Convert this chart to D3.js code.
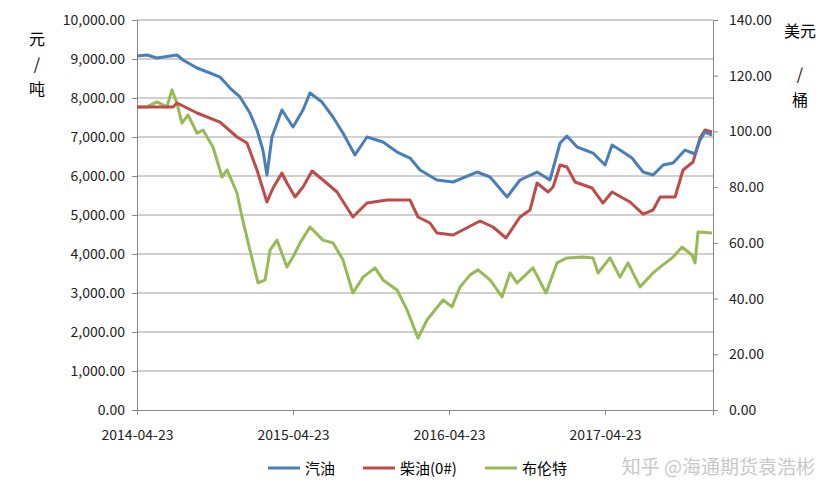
<!DOCTYPE html>
<html><head><meta charset="utf-8">
<script src="https://d3js.org/d3.v7.min.js"></script>
<style>body{margin:0;background:#fff}text{font-family:"Noto Sans CJK SC","Liberation Sans",sans-serif}</style>
</head><body><svg id="c" width="836" height="500"></svg>
<script>
// time in decimal years
const tickLabels=["2014-04-23","2015-04-23","2016-04-23","2017-04-23"];
const tickYears=[2014.307,2015.307,2016.307,2017.307];
const gasT=[2014.307,2014.371,2014.435,2014.563,2014.602,2014.692,2014.775,2014.839,2014.903,2014.967,2015.031,2015.076,2015.114,2015.140,2015.172,2015.236,2015.307,2015.371,2015.416,2015.493,2015.563,2015.627,2015.704,2015.781,2015.884,2015.974,2016.057,2016.121,2016.230,2016.333,2016.486,2016.570,2016.679,2016.762,2016.871,2016.954,2017.019,2017.063,2017.128,2017.230,2017.307,2017.352,2017.403,2017.480,2017.551,2017.615,2017.679,2017.743,2017.820,2017.884,2017.916,2017.948,2017.993];
const gasV=[9077,9103,9026,9103,8974,8769,8641,8538,8256,8026,7615,7179,6667,6026,7000,7692,7256,7692,8128,7897,7513,7103,6538,7000,6872,6615,6461,6154,5897,5846,6102,5974,5461,5897,6102,5897,6846,7026,6743,6589,6282,6795,6666,6461,6102,6026,6282,6333,6666,6564,6923,7128,7051];
const dslT=[2014.307,2014.371,2014.538,2014.563,2014.692,2014.839,2014.948,2015.012,2015.076,2015.140,2015.179,2015.236,2015.268,2015.320,2015.371,2015.429,2015.499,2015.589,2015.691,2015.781,2015.910,2016.057,2016.108,2016.185,2016.230,2016.333,2016.506,2016.589,2016.672,2016.762,2016.826,2016.871,2016.942,2016.974,2017.019,2017.063,2017.115,2017.224,2017.294,2017.352,2017.467,2017.551,2017.615,2017.660,2017.756,2017.807,2017.871,2017.916,2017.948,2017.993];
const dslV=[7769,7769,7769,7872,7615,7384,7000,6846,6154,5333,5692,6077,5820,5461,5718,6128,5897,5590,4949,5307,5384,5384,4949,4795,4538,4487,4846,4692,4410,4949,5128,5820,5590,5718,6282,6230,5846,5692,5307,5590,5333,5025,5128,5461,5461,6154,6359,6974,7179,7128];
const brtT=[2014.307,2014.371,2014.435,2014.499,2014.531,2014.563,2014.595,2014.634,2014.692,2014.730,2014.794,2014.852,2014.884,2014.948,2014.980,2015.031,2015.083,2015.128,2015.160,2015.204,2015.268,2015.307,2015.352,2015.416,2015.499,2015.563,2015.627,2015.691,2015.756,2015.833,2015.884,2015.974,2016.038,2016.108,2016.166,2016.217,2016.269,2016.326,2016.378,2016.442,2016.493,2016.570,2016.647,2016.698,2016.743,2016.845,2016.929,2016.999,2017.063,2017.166,2017.230,2017.262,2017.339,2017.403,2017.454,2017.531,2017.615,2017.660,2017.743,2017.801,2017.865,2017.884,2017.903,2017.993];
const brtV=[108.8,108.8,110.6,108.8,114.9,110.2,103.0,105.9,99.4,100.5,94.4,83.6,86.2,77.9,69.3,57.4,45.6,46.7,57.4,61.0,51.3,54.9,60.0,65.7,61.0,60.0,53.9,42.0,47.7,51.0,46.7,43.1,35.9,25.8,32.3,35.9,39.5,37.0,44.2,48.5,50.3,46.7,40.6,49.2,45.6,51.0,42.0,52.8,54.6,54.9,54.6,49.2,54.6,47.7,52.8,44.2,49.2,51.3,54.9,58.5,55.6,52.8,63.9,63.5];
const names=["汽油","柴油(0#)","布伦特"];
const colors=["#4a7ebb","#be4b48","#98b954"];

const svg=d3.select("#c");
const L=137,R=713,T=20,B=410;
const x=d3.scaleLinear().domain([2014.307,2017.999]).range([L,R]);
const yl=d3.scaleLinear().domain([0,10000]).range([B,T]);
const yr=d3.scaleLinear().domain([0,140]).range([B,T]);
const fmt=d3.format(",.2f");
svg.append("g").selectAll("line").data(d3.range(1000,10001,1000)).join("line")
 .attr("x1",L).attr("x2",R).attr("y1",d=>yl(d)).attr("y2",d=>yl(d)).attr("stroke","#a0a0a0").attr("stroke-width",1);
const gl=svg.append("g").attr("transform",`translate(${L},0)`).call(d3.axisLeft(yl).tickValues(d3.range(0,10001,1000)).tickFormat(fmt).tickSize(5));
const gr=svg.append("g").attr("transform",`translate(${R},0)`).call(d3.axisRight(yr).tickValues(d3.range(0,141,20)).tickFormat(fmt).tickSize(5));
const gb=svg.append("g").attr("transform",`translate(0,${B})`).call(d3.axisBottom(x).tickValues(tickYears).tickFormat((d,i)=>tickLabels[i]).tickSize(5));
[gl,gr,gb].forEach(g=>{g.selectAll("path,line").attr("stroke","#868686");g.selectAll("text").attr("font-size",14).attr("fill","#222")});
gl.selectAll("text").attr("dx",-4);gr.selectAll("text").attr("dx",8);gb.selectAll("text").attr("dy",22);
const series=[[gasT,gasV,yl],[dslT,dslV,yl],[brtT,brtV,yr]];
[2,1,0].forEach(i=>{const [t,v,ys]=series[i];
 svg.append("path").datum(t.map((d,j)=>[d,v[j]])).attr("fill","none").attr("stroke",colors[i]).attr("stroke-width",3).attr("stroke-linejoin","round")
  .attr("d",d3.line().x(d=>x(d[0])).y(d=>ys(d[1])));});
[["元",45],["/",70],["吨",95]].forEach(([s,y])=>svg.append("text").attr("x",37).attr("y",y).attr("text-anchor","middle").attr("font-size",16).text(s));
[["美元",37],["/",80],["桶",106]].forEach(([s,y])=>svg.append("text").attr("x",800).attr("y",y).attr("text-anchor","middle").attr("font-size",16).text(s));
const lx=[268,363,485];
names.forEach((n,i)=>{svg.append("line").attr("x1",lx[i]).attr("x2",lx[i]+32).attr("y1",468).attr("y2",468).attr("stroke",colors[i]).attr("stroke-width",3);
 svg.append("text").attr("x",lx[i]+37).attr("y",474).attr("font-size",15).text(n);});
svg.append("text").attr("x",815).attr("y",474).attr("text-anchor","end").attr("font-size",19).attr("fill","#c8c8c8").text("知乎 @海通期货袁浩彬");
</script></body></html>
